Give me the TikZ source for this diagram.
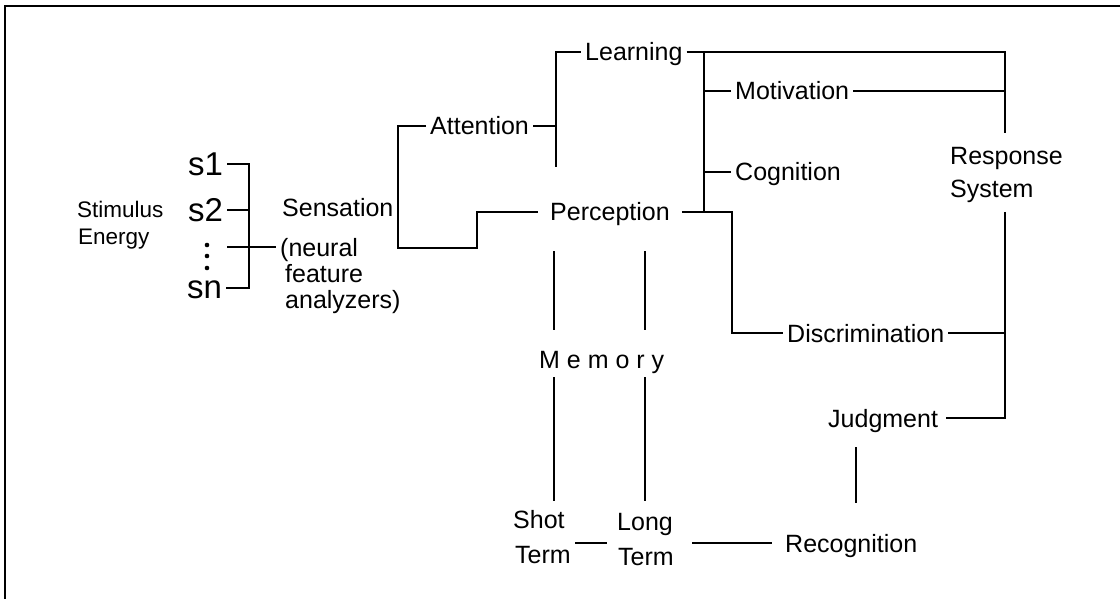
\documentclass[tikz,border=0pt]{standalone}
\usepackage{fontspec}
\setmainfont{Liberation Sans}
\begin{document}
\begin{tikzpicture}[x=1pt,y=-1pt,
  lbl/.style={inner xsep=4pt, inner ysep=0pt, text height=18pt, text depth=0pt,
    font=\fontsize{25}{30}\selectfont, anchor=west},
  small/.style={font=\fontsize{22.5}{27}\selectfont, text height=16.2pt},
  big/.style={font=\fontsize{33}{40}\selectfont, text height=23.6pt},
  dotmark/.style={fill=black, circle, inner sep=0pt, minimum size=4.6pt},
  ln/.style={line width=1.5pt},
  frame/.style={line width=2pt}]
\useasboundingbox (0,0) rectangle (1120,599);
% frame
\coordinate (f0) at (5,6);
\coordinate (f1) at (1120,6);
\coordinate (f2) at (5,599);
\draw[frame] (f1) -- (f0) -- (f2);

% left group
\node[lbl,small] (stim) at (73,209) {Stimulus};
\node[lbl,small] (energy) at (74,236) {Energy};
\node[lbl,big] (s1) at (184,164) {s1};
\node[lbl,big] (s2) at (184,210) {s2};
\node[lbl,big,text height=17pt] (sn) at (183,290) {sn};
\node[dotmark] (d1) at (207,245) {};
\node[dotmark] (d2) at (207,256) {};
\node[dotmark] (d3) at (207,268) {};

\node[lbl] (sensation) at (278,207) {Sensation};
\node[lbl] (neural) at (276,247) {(neural};
\node[lbl] (feature) at (281,273) {feature};
\node[lbl] (analyzers) at (281,299) {analyzers)};

\node[lbl] (attention) at (426,126) {Attention};
\node[lbl] (learning) at (581,52) {Learning};
\node[lbl,inner xsep=12pt] (perception) at (538,212) {Perception};
\node[lbl] (motivation) at (731,91) {Motivation};
\node[lbl] (cognition) at (731,172) {Cognition};
\node[lbl] (response) at (946,156) {Response};
\node[lbl] (system) at (946,189) {System};
\node[lbl] (discrimination) at (783,333) {Discrimination};
\node[lbl,inner xsep=8pt] (judgment) at (820,418) {Judgment};
\node[lbl,inner xsep=13pt] (recognition) at (772,543) {Recognition};
\node[lbl] (memory) at (535,359) {M e m o r y};
\node[lbl] (shot) at (509,519) {Shot};
\node[lbl] (term1) at (511,554) {Term};
\node[lbl] (long) at (613,521) {Long};
\node[lbl] (term2) at (614,556) {Term};

% stimulus bracket
\coordinate (b1) at (249,165);
\coordinate (b2) at (249,288);
\coordinate (dt) at (227,247);
\draw[ln] (s1.east) -| (b2) -- (b2 -| sn.east);
\draw[ln] (s2.east) -- (s2.east -| b1);
\draw[ln] (dt) -- (neural.west);

% sensation bracket
\coordinate (sa) at (398,248);
\coordinate (sc) at (477,248);
\draw[ln] (attention.west) -| (sa) -- (sc) |- (perception.west);

% attention / learning
\coordinate (aj) at (556,167);
\draw[ln] (aj) |- (learning.west);
\draw[ln] (attention.east) -- (attention.east -| aj);

% learning / response
\coordinate (rtop) at (1005,133);
\draw[ln] (learning.east) -| (rtop);
\coordinate (vx) at (704,213);
\draw[ln] (vx) -- (vx |- learning.east);
\draw[ln] (motivation.west) -- (motivation.west -| vx);
\draw[ln] (cognition.west) -- (cognition.west -| vx);
\draw[ln] (motivation.east) -- (motivation.east -| rtop);

% perception / discrimination
\coordinate (dj) at (732,333);
\draw[ln] (perception.east) -| (dj) -- (discrimination.west);
\coordinate (rbot) at (1005,212);
\draw[ln] (rbot) |- (judgment.east);
\draw[ln] (discrimination.east) -- (discrimination.east -| rbot);

% memory lines
\coordinate (m1a) at (554,251);
\coordinate (m1b) at (554,330);
\coordinate (m1c) at (554,377);
\coordinate (m1d) at (554,501);
\coordinate (m2a) at (645,251);
\coordinate (m2b) at (645,330);
\coordinate (m2c) at (645,377);
\coordinate (m2d) at (645,501);
\draw[ln] (m1a) -- (m1b);
\draw[ln] (m1c) -- (m1d);
\draw[ln] (m2a) -- (m2b);
\draw[ln] (m2c) -- (m2d);

% short-long, long-recognition
\coordinate (sl1) at (575,543);
\coordinate (sl2) at (607,543);
\coordinate (lr) at (692,543);
\draw[ln] (sl1) -- (sl2);
\draw[ln] (lr) -- (recognition.west);

% judgment - recognition
\coordinate (jr1) at (856,447);
\coordinate (jr2) at (856,503);
\draw[ln] (jr1) -- (jr2);
\end{tikzpicture}
\end{document}
